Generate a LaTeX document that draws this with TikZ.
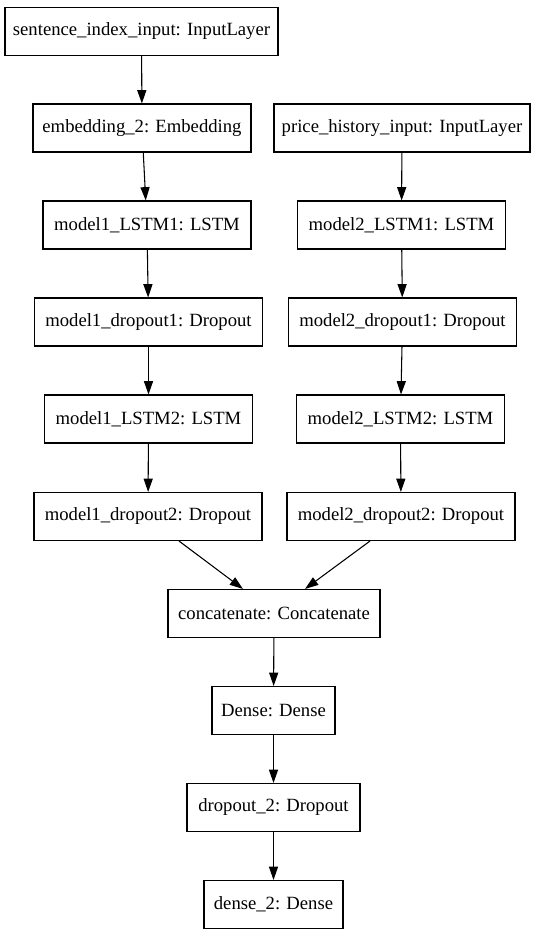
\documentclass[tikz,border=0pt]{standalone}
\usepackage{fontspec}
\setmainfont{Liberation Serif}
\usetikzlibrary{arrows.meta,calc}
\begin{document}
\begin{tikzpicture}[x=0.75pt,y=-0.75pt,
  lyr/.style={draw, line width=0.8pt, minimum height=36pt, inner sep=0pt, font=\fontsize{14}{16}\selectfont},
  conn/.style={line width=0.8pt, -{Triangle[length=10pt,width=6.8pt]}}]
\useasboundingbox (0,0) rectangle (537,936);
\node[lyr, minimum width=204.75pt] (sent) at (141.5,31.5) {sentence\_index\_input: InputLayer};
\node[lyr, minimum width=163.5pt] (emb) at (142,128) {embedding\_2: Embedding};
\node[lyr, minimum width=192pt] (price) at (402,128) {price\_history\_input: InputLayer};
\node[lyr, minimum width=156pt] (mla) at (147,225) {model1\_LSTM1: LSTM};
\node[lyr, minimum width=156pt] (mlb) at (401.5,225) {model2\_LSTM1: LSTM};
\node[lyr, minimum width=171pt] (mda) at (148.5,322) {model1\_dropout1: Dropout};
\node[lyr, minimum width=171pt] (mdb) at (402.5,322) {model2\_dropout1: Dropout};
\node[lyr, minimum width=156pt] (mlc) at (148.5,419) {model1\_LSTM2: LSTM};
\node[lyr, minimum width=156pt] (mld) at (400.5,419) {model2\_LSTM2: LSTM};
\node[lyr, minimum width=171pt] (mdc) at (148,516.5) {model1\_dropout2: Dropout};
\node[lyr, minimum width=171pt] (mdd) at (401,516.5) {model2\_dropout2: Dropout};
\node[lyr, minimum width=159pt] (cat) at (274,613.5) {concatenate: Concatenate};
\node[lyr, minimum width=92.25pt] (dense) at (273.5,710.5) {Dense: Dense};
\node[lyr, minimum width=129.75pt] (drop) at (273.5,807.5) {dropout\_2: Dropout};
\node[lyr, minimum width=104.25pt] (dense2) at (273.5,904.5) {dense\_2: Dense};
\draw[conn] (sent) -- (emb);
\draw[conn] (emb) -- (mla);
\draw[conn] (price) -- (mlb);
\draw[conn] (mla) -- (mda);
\draw[conn] (mlb) -- (mdb);
\draw[conn] (mda) -- (mlc);
\draw[conn] (mdb) -- (mld);
\draw[conn] (mlc) -- (mdc);
\draw[conn] (mld) -- (mdd);
\draw[conn] ($(mdc.south)+(31,0)$) -- ($(cat.north)+(-31,0)$);
\draw[conn] ($(mdd.south)+(-31,0)$) -- ($(cat.north)+(31,0)$);
\draw[conn] (cat) -- (dense);
\draw[conn] (dense) -- (drop);
\draw[conn] (drop) -- (dense2);
\end{tikzpicture}
\end{document}
